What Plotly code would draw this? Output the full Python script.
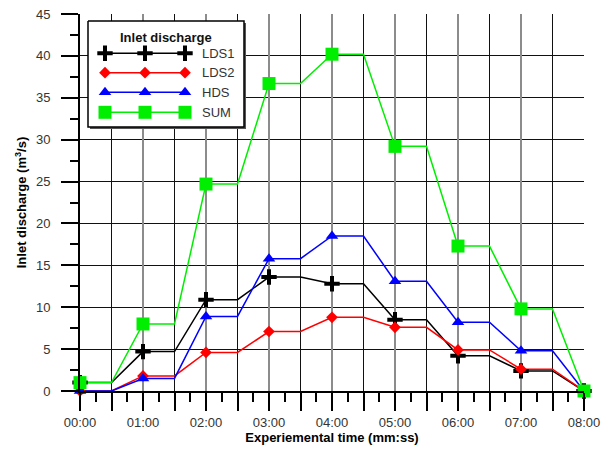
import plotly.graph_objects as go

# time in minutes (points every 30 s)
time_min = [0, 0.5, 1, 1.5, 2, 2.5, 3, 3.5, 4, 4.5, 5, 5.5, 6, 6.5, 7, 7.5, 8]
tick_vals = [0, 0.5, 1, 1.5, 2, 2.5, 3, 3.5, 4, 4.5, 5, 5.5, 6, 6.5, 7, 7.5, 8]
tick_text = ["00:00", "", "01:00", "", "02:00", "", "03:00", "", "04:00", "",
             "05:00", "", "06:00", "", "07:00", "", "08:00"]
minute_vals = [0, 1, 2, 3, 4, 5, 6, 7, 8]
y_ticks = [0, 5, 10, 15, 20, 25, 30, 35, 40, 45]

lds1 = [1.0, 1.0, 4.7, 4.7, 10.9, 10.9, 13.6, 13.6, 12.8, 12.8, 8.5, 8.5, 4.2, 4.2, 2.4, 2.4, 0.0]
lds2 = [0.0, 0.0, 1.8, 1.8, 4.6, 4.6, 7.1, 7.1, 8.8, 8.8, 7.6, 7.6, 4.9, 4.9, 2.6, 2.6, 0.0]
hds = [0.0, 0.0, 1.5, 1.5, 8.9, 8.9, 15.8, 15.8, 18.5, 18.5, 13.1, 13.1, 8.2, 8.2, 4.8, 4.8, 0.0]
total = [1.0, 1.0, 8.0, 8.0, 24.7, 24.7, 36.7, 36.7, 40.2, 40.2, 29.2, 29.2, 17.3, 17.3, 9.8, 9.8, 0.0]

names = ["LDS1", "LDS2", "HDS", "SUM"]
series = [lds1, lds2, hds, total]
colors = ["#000000", "#ff0000", "#0000ff", "#00ee00"]
symbols = ["cross-thin", "diamond", "triangle-up", "square"]
sizes = [11, 9, 11, 13]

FONT = "Liberation Sans, Arial, sans-serif"
PW, PH = 504.0, 377.0  # plot area size in px
fig = go.Figure()

def marker_style(i):
    if symbols[i] == "cross-thin":
        return dict(symbol="cross-thin", size=sizes[i], color=colors[i],
                    line=dict(color=colors[i], width=4))
    return dict(symbol=symbols[i], size=sizes[i], color=colors[i], line=dict(width=0))

# data: lines through every 30 s point, markers on full minutes
for i, (nm, ys) in enumerate(zip(names, series)):
    fig.add_trace(go.Scatter(x=time_min, y=ys, mode="lines", name=nm,
                             line=dict(color=colors[i], width=1.5),
                             showlegend=False, cliponaxis=False, hoverinfo="skip"))
for i, (nm, ys) in enumerate(zip(names, series)):
    mx = [t for t in time_min if t in minute_vals]
    my = [v for t, v in zip(time_min, ys) if t in minute_vals]
    fig.add_trace(go.Scatter(x=mx, y=my, mode="markers", name=nm,
                             marker=marker_style(i), showlegend=False, cliponaxis=False))

# dummy trace for the overlay axis carrying the full-minute grid
fig.add_trace(go.Scatter(x=[0], y=[0], xaxis="x2", mode="markers",
                         marker=dict(opacity=0), showlegend=False, hoverinfo="skip"))

# custom legend (pixel offsets inside plot area via x3/y3)
def legend_box(x0, y0, x1, y1, fill, line):
    fig.add_trace(go.Scatter(x=[x0, x1, x1, x0, x0], y=[y0, y0, y1, y1, y0],
                             xaxis="x3", yaxis="y3", mode="lines", fill="toself",
                             fillcolor=fill, line=line, showlegend=False,
                             hoverinfo="skip", cliponaxis=False))

legend_box(10, 9, 166, 115, "#555555", dict(width=0, color="#555555"))
legend_box(8, 7, 164, 113, "white", dict(width=1.5, color="black"))

leg_rows = [39.3, 58.7, 78.3, 98.3]
leg_mx = [25, 65, 105]
for i, nm in enumerate(names):
    fig.add_trace(go.Scatter(x=leg_mx, y=[leg_rows[i]] * 3, xaxis="x3", yaxis="y3",
                             mode="lines+markers", line=dict(color=colors[i], width=1.5),
                             marker=marker_style(i), showlegend=False, hoverinfo="skip",
                             cliponaxis=False))
    fig.add_annotation(x=120, y=leg_rows[i], xref="x3", yref="y3", text=nm,
                       showarrow=False, xanchor="left", yanchor="middle",
                       font=dict(family=FONT, size=13, color="#333333"))
fig.add_annotation(x=86, y=23, xref="x3", yref="y3", text="<b>Inlet discharge</b>",
                   showarrow=False, xanchor="center", yanchor="middle",
                   font=dict(family=FONT, size=13, color="#111111"))

# page body has an 8 px margin: figure is 8 px smaller and margins shifted
fig.update_layout(
    width=601, height=442,
    margin=dict(l=72, r=25, t=6, b=59, autoexpand=False),
    plot_bgcolor="white", paper_bgcolor="white",
    font=dict(family=FONT, size=13, color="#333333"),
    xaxis=dict(range=[0, 8], tickmode="array", tickvals=tick_vals, ticktext=tick_text,
               showgrid=True, gridcolor="#111111", gridwidth=1,
               ticks="outside", ticklen=18, tickwidth=1.5, tickcolor="black",
               showline=True, linecolor="black", linewidth=2,
               minor=dict(dtick=0.25, ticks="outside", ticklen=9, tickwidth=1.5,
                          tickcolor="black", showgrid=False),
               ticklabelstandoff=0, automargin=False, ticklabeloverflow="allow",
               title=dict(text="<b>Experiemental time (mm:ss)</b>", standoff=2,
                          font=dict(family=FONT, size=13, color="black")),
               zeroline=False),
    xaxis2=dict(range=[0, 8], overlaying="x", tickmode="array", tickvals=minute_vals,
                showgrid=True, gridcolor="#8c8c8c", gridwidth=2, automargin=False,
                showticklabels=False, ticks="", showline=False, zeroline=False),
    xaxis3=dict(range=[0, PW], overlaying="x", visible=False, showgrid=False,
                automargin=False),
    yaxis3=dict(range=[PH, 0], overlaying="y", visible=False, showgrid=False,
                automargin=False),
    yaxis=dict(range=[0, 45], tickmode="array", tickvals=y_ticks,
               showgrid=True, gridcolor="#111111", gridwidth=1,
               ticks="outside", ticklen=17, tickwidth=1.5, tickcolor="black",
               showline=True, linecolor="black", linewidth=2,
               minor=dict(dtick=2.5, tick0=0, ticks="outside", ticklen=8, tickwidth=1.5,
                          tickcolor="black", showgrid=False),
               ticklabelstandoff=8, automargin=False, ticklabeloverflow="allow",
               title=dict(text="<b>Inlet discharge (m<sup>3</sup>/s)</b>", standoff=6,
                          font=dict(family=FONT, size=13, color="black")),
               zeroline=False),
)

fig.write_html("out.html")
